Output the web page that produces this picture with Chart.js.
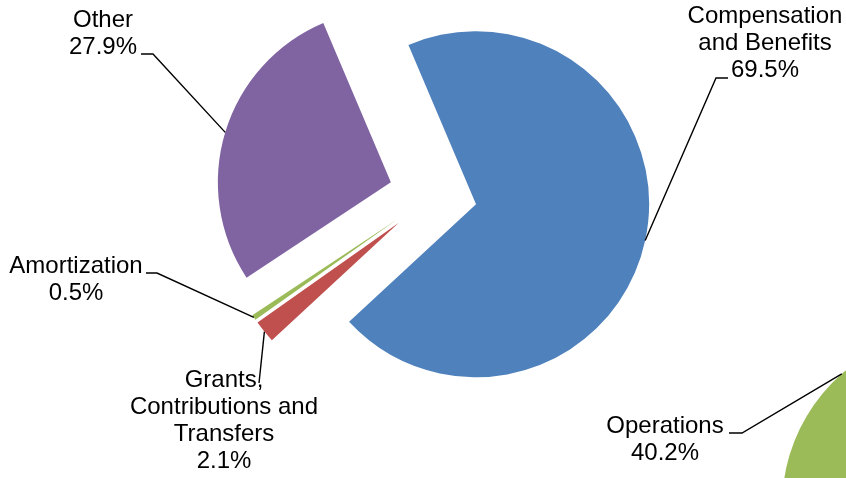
<!DOCTYPE html>
<html>
<head>
<meta charset="utf-8">
<script src="https://cdn.jsdelivr.net/npm/chart.js@4.4.1/dist/chart.umd.min.js"></script>
<style>
  html, body { margin: 0; padding: 0; width: 846px; height: 478px; overflow: hidden; background: #ffffff; }
  canvas { position: absolute; }
  #main { left: 0; top: 0; }
  #ops { left: 558px; top: 306px; }
</style>
</head>
<body>
<canvas id="ops" width="800" height="400"></canvas>
<canvas id="main" width="846" height="478"></canvas>
<script>
// Expense breakdown, percent of total
const categories = [
  ['Compensation', 'and Benefits'],
  ['Grants,', 'Contributions and', 'Transfers'],
  ['Amortization'],
  ['Other']
];
const shares = [69.5, 2.1, 0.5, 27.9];
const sliceColors = ['#4F81BD', '#C0504D', '#9BBB59', '#8064A2'];

// Neighbouring pie: only its Operations slice reaches into the page
const opsCategories = [['Operations'], ['All other']];
const opsShares = [40.2, 59.8];
const opsColors = ['#9BBB59', '#4F81BD'];

const FONT = '24px "Liberation Sans", Arial, sans-serif';
const LINE_H = 27;

// Label placement in page pixels: centre x, first baseline, leader bend points
const mainLabelLayout = [
  { cx: 765, base: 23,  leader: [[728, 78], [716, 78]] },
  { cx: 224, base: 387, leader: [[259, 383]] },
  { cx: 76,  base: 273, leader: [[146, 273], [157, 273]] },
  { cx: 103, base: 27,  leader: [[141, 54], [153, 54]] }
];
const opsLabelLayout = [
  { cx: 665, base: 433, leader: [[729, 433], [742, 433]] },
  null
];

// Pulls every slice out from the centre along its mid angle
function explodePlugin(dist) {
  return {
    id: 'explode',
    beforeDatasetsDraw(chart) {
      if (!dist) return;
      const meta = chart.getDatasetMeta(0);
      const ca = chart.chartArea;
      const cx = (ca.left + ca.right) / 2 + (meta.controller.offsetX || 0);
      const cy = (ca.top + ca.bottom) / 2 + (meta.controller.offsetY || 0);
      meta.data.forEach(arc => {
        const mid = (arc.startAngle + arc.endAngle) / 2;
        arc.x = cx + Math.cos(mid) * dist;
        arc.y = cy + Math.sin(mid) * dist;
      });
    }
  };
}

// Category + percentage labels with leader lines to the slice rims
function sliceLabelPlugin(layout) {
  return {
    id: 'sliceLabels',
    afterDatasetsDraw(chart) {
      const ox = chart.canvas.offsetLeft, oy = chart.canvas.offsetTop;
      const ctx = chart.ctx;
      const meta = chart.getDatasetMeta(0);
      const values = chart.data.datasets[0].data;
      ctx.save();
      meta.data.forEach((arc, i) => {
        const L = layout[i];
        if (!L) return;
        const mid = (arc.startAngle + arc.endAngle) / 2;
        const px = arc.x + Math.cos(mid) * arc.outerRadius;
        const py = arc.y + Math.sin(mid) * arc.outerRadius;
        ctx.beginPath();
        L.leader.forEach((p, k) => {
          if (k === 0) ctx.moveTo(p[0] - ox, p[1] - oy);
          else ctx.lineTo(p[0] - ox, p[1] - oy);
        });
        ctx.lineTo(px, py);
        ctx.strokeStyle = '#000000';
        ctx.lineWidth = 1.4;
        ctx.stroke();

        const lines = [].concat(chart.data.labels[i], values[i].toFixed(1) + '%');
        ctx.font = FONT;
        ctx.fillStyle = '#000000';
        ctx.textAlign = 'center';
        ctx.textBaseline = 'alphabetic';
        lines.forEach((t, k) => ctx.fillText(t, L.cx - ox, L.base - oy + k * LINE_H));
      });
      ctx.restore();
    }
  };
}

function pieConfig(labels, data, colors, radius, rotation, explode, layout, padding) {
  return {
    type: 'pie',
    data: {
      labels: labels,
      datasets: [{ data: data, backgroundColor: colors, borderWidth: 0, radius: radius }]
    },
    options: {
      responsive: false,
      animation: false,
      events: [],
      rotation: rotation,
      layout: { padding: padding },
      plugins: {
        legend: { display: false },
        tooltip: { enabled: false }
      }
    },
    plugins: [explodePlugin(explode), sliceLabelPlugin(layout)]
  };
}

new Chart(document.getElementById('ops'),
  pieConfig(opsCategories, opsShares, opsColors, 176, 246.3, 0, opsLabelLayout,
            { left: 0, right: 0, top: 0, bottom: 0 }));

new Chart(document.getElementById('main'),
  pieConfig(categories, shares, sliceColors, 173, -23, 44, mainLabelLayout,
            { left: 20, right: 0, top: 0, bottom: 88 }));
</script>
</body>
</html>
